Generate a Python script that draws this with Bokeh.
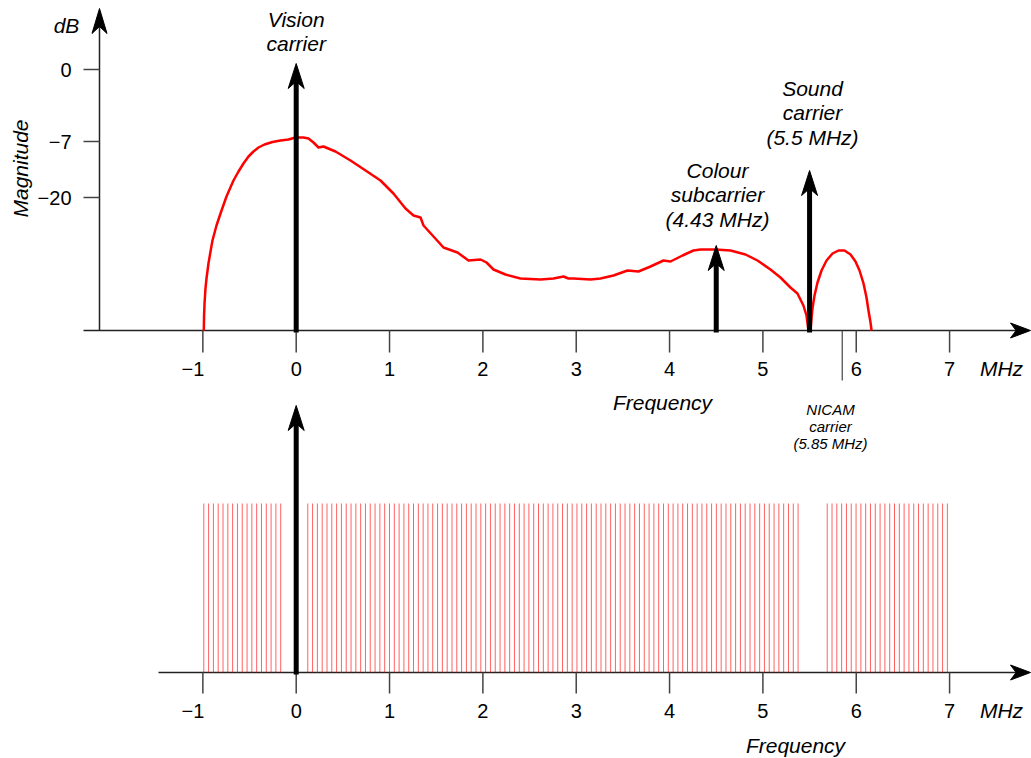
import numpy as np
from bokeh.plotting import figure
from bokeh.models import Range1d
from bokeh.core.properties import value
from bokeh.embed import file_html
from bokeh.resources import INLINE

# ---------------- data ----------------
# Top panel: analogue PAL spectrum envelope; x in MHz, level = height above baseline
main_lobe_mhz = [-0.990, -0.987, -0.982, -0.972, -0.961, -0.940, -0.918, -0.897, -0.854,
                 -0.811, -0.747, -0.672, -0.618, -0.565, -0.511, -0.458, -0.404, -0.340,
                 -0.254, -0.168, -0.083,
                 -0.007, 0.078, 0.132, 0.185, 0.239, 0.292, 0.421,
                 0.582, 0.743, 0.903, 1.042, 1.171, 1.257, 1.332, 1.364, 1.471, 1.578,
                 1.728, 1.846, 1.975, 2.039, 2.114, 2.242, 2.403, 2.617, 2.757, 2.810,
                 2.864, 2.917, 2.971, 3.153, 3.260, 3.399, 3.549, 3.667, 3.796, 3.935,
                 4.010, 4.139, 4.257, 4.332, 4.492, 4.653, 4.813, 4.942, 5.081, 5.188,
                 5.295, 5.370, 5.434, 5.467, 5.488]
main_lobe_level = [0, 15, 27, 42, 52, 67, 79, 90, 105,
                   117, 134, 150, 159, 167, 174, 179, 183, 186,
                   188.5, 190, 191,
                   193, 193, 192, 188, 183, 184, 179,
                   170, 160, 150, 137, 122, 115, 113, 105, 94, 83,
                   78, 70, 71, 68, 61, 56, 52, 51, 52, 53,
                   54, 52, 52, 51, 52, 55, 60, 59, 64, 70,
                   69, 75, 80, 81, 81, 80, 76, 70, 61, 53,
                   43, 37, 25, 15, 0]
nicam_lobe_mhz = [5.510, 5.521, 5.531, 5.553, 5.585, 5.628, 5.682, 5.746, 5.810, 5.874,
                  5.939, 5.992, 6.035, 6.078, 6.110, 6.131, 6.153, 6.164]
nicam_lobe_level = [0, 12, 22, 35, 48, 60, 70, 77, 80, 80, 76, 69, 60, 47, 33, 20, 8, 0]

carrier_mhz_top = [0.0, 4.5, 5.5]
carrier_level_top = [267, 85, 160]
nicam_mhz = 5.85

db_tick_labels = ["0", "\u22127", "\u221220"]
db_tick_levels = [261, 189, 133]

freq_ticks = [-1, 0, 1, 2, 3, 4, 5, 6, 7]
freq_tick_labels = ["\u22121", "0", "1", "2", "3", "4", "5", "6", "7"]

# Bottom panel: NICAM / digital carriers comb
comb_group_start = [-0.990, 0.124, 5.689]
comb_group_count = [17, 103, 26]
comb_spacing = 0.0515
comb_level = 169
carrier_mhz_bottom = [0.0]
carrier_level_bottom = [267]

# ---------------- layout helpers ----------------
W, H = 1031, 758
SX = 93.34                 # px per MHz
X0 = (0 - 295.7) / SX
X1 = (W - 295.7) / SX
BASE_TOP = 758 - 330       # y of top baseline
BASE_BOT = 758 - 672       # y of bottom baseline


def X(px):
    return (px - 295.7) / SX


def Y(py):
    return 758 - py


FONT = value("Liberation Sans")

p = figure(width=W, height=H, x_range=Range1d(X0, X1), y_range=Range1d(0, 758),
           output_backend="svg", toolbar_location=None, min_border=0,
           x_axis_location=None, y_axis_location=None)
p.grid.visible = False
p.outline_line_color = None
p.background_fill_color = "white"


def up_head(x, yt, L, Wd):
    return ([x, x + Wd / 2 / SX, x, x - Wd / 2 / SX],
            [yt, yt - L, yt - 0.72 * L, yt - L])


def right_head(xt, y, L, Wd):
    return ([xt, xt - L / SX, xt - 0.72 * L / SX, xt - L / SX],
            [y, y + Wd / 2, y, y - Wd / 2])


AX = "#222222"
TK = "#444444"

# ---------- top panel axes ----------
p.segment(x0=[X(83)], y0=[BASE_TOP], x1=[X(1022)], y1=[BASE_TOP], line_color=AX, line_width=1.5)
p.segment(x0=[X(99)], y0=[BASE_TOP], x1=[X(99)], y1=[Y(20)], line_color=AX, line_width=1.5)
hx, hy = right_head(X(1030), BASE_TOP, 20, 15)
hx2, hy2 = up_head(X(99), Y(8), 25, 15)
p.patches(xs=[hx, hx2], ys=[hy, hy2], fill_color="black", line_color="black", line_width=1)

p.segment(x0=freq_ticks, y0=[BASE_TOP] * 9, x1=freq_ticks, y1=[BASE_TOP - 22] * 9,
          line_color=TK, line_width=1.5)
p.segment(x0=[nicam_mhz], y0=[BASE_TOP], x1=[nicam_mhz], y1=[BASE_TOP - 50],
          line_color=TK, line_width=1.2)
p.segment(x0=[X(83)] * 3, y0=[BASE_TOP + v for v in db_tick_levels],
          x1=[X(99)] * 3, y1=[BASE_TOP + v for v in db_tick_levels],
          line_color=TK, line_width=1.5)

# spectrum envelope
p.line(main_lobe_mhz, [BASE_TOP + v for v in main_lobe_level], line_color="red",
       line_width=2.5, line_join="round")
p.line(nicam_lobe_mhz, [BASE_TOP + v for v in nicam_lobe_level], line_color="red",
       line_width=2.5, line_join="round")

# ---------- bottom panel axes ----------
p.segment(x0=[X(158)], y0=[BASE_BOT], x1=[X(1022)], y1=[BASE_BOT], line_color=AX, line_width=1.5)
hx3, hy3 = right_head(X(1030), BASE_BOT, 20, 15)
p.patches(xs=[hx3], ys=[hy3], fill_color="black", line_color="black", line_width=1)
p.segment(x0=freq_ticks, y0=[BASE_BOT] * 9, x1=freq_ticks, y1=[BASE_BOT - 21] * 9,
          line_color=TK, line_width=1.5)

comb_x = np.concatenate([s + comb_spacing * np.arange(n)
                         for s, n in zip(comb_group_start, comb_group_count)])
p.segment(x0=comb_x, y0=[BASE_BOT] * len(comb_x), x1=comb_x,
          y1=[BASE_BOT + comb_level] * len(comb_x),
          line_color="#ff0000", line_alpha=0.62, line_width=1)

# ---------- carrier arrows ----------
arr_x = carrier_mhz_top + carrier_mhz_bottom
arr_base = [BASE_TOP] * len(carrier_mhz_top) + [BASE_BOT] * len(carrier_mhz_bottom)
arr_tip = [BASE_TOP + v for v in carrier_level_top] + [BASE_BOT + v for v in carrier_level_bottom]
p.segment(x0=arr_x, y0=[b - 2 for b in arr_base], x1=arr_x, y1=[t - 18 for t in arr_tip],
          line_color="black", line_width=5)
heads = [up_head(x, t, 25, 16) for x, t in zip(arr_x, arr_tip)]
p.patches(xs=[h[0] for h in heads], ys=[h[1] for h in heads],
          fill_color="black", line_color="black", line_width=1)


# ---------- texts ----------
def txt(xs, ys, texts, size, style="italic", align="center", angle=0.0):
    p.text(x=xs, y=ys, text=texts, text_font=FONT, text_font_size=value(size),
           text_font_style=style, text_align=align, text_baseline="middle",
           text_color="black", angle=angle)


# tick labels
lab_x = [t if t >= 0 else t - 10 / SX for t in freq_ticks]
txt(lab_x, [Y(368)] * 9, freq_tick_labels, "20px", style="normal")
txt(lab_x, [Y(710)] * 9, freq_tick_labels, "20px", style="normal")
txt([X(71)] * 3, [BASE_TOP + v for v in db_tick_levels], db_tick_labels, "20px",
    style="normal", align="right")

# axis titles
txt([X(66)], [Y(25)], ["dB"], "21px")
txt([X(20)], [Y(168)], ["Magnitude"], "21px", angle=np.pi / 2)
txt([X(1001), X(1001)], [Y(368), Y(710)], ["MHz", "MHz"], "21px")
txt([X(662), X(795)], [Y(402), Y(745)], ["Frequency", "Frequency"], "21px")

# carrier annotations
txt([0.0, 0.0], [Y(19), Y(43)], ["Vision", "carrier"], "21px")
txt([X(812)] * 3, [Y(88), Y(112), Y(137)], ["Sound", "carrier", "(5.5 MHz)"], "21px")
txt([X(717)] * 3, [Y(170), Y(194), Y(219)], ["Colour", "subcarrier", "(4.43 MHz)"], "21px")
txt([X(830)] * 3, [Y(409), Y(426), Y(443)], ["NICAM", "carrier", "(5.85 MHz)"], "15px")

open("out.html", "w").write(file_html(p, INLINE))
